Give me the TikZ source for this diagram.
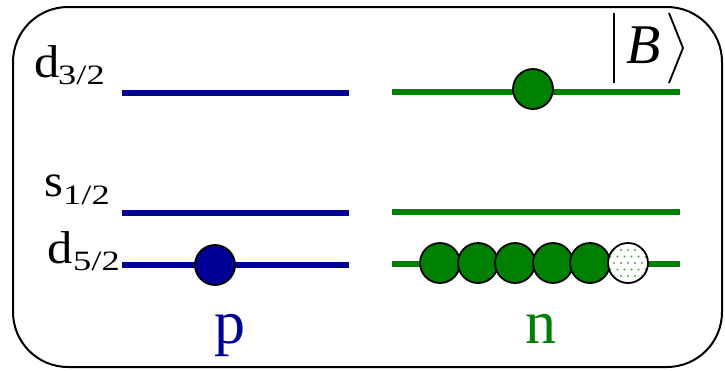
\documentclass[tikz,border=0pt]{standalone}
\usepackage{fontspec}
\setmainfont{Liberation Serif}
\definecolor{pblue}{RGB}{0,0,153}
\definecolor{ngreen}{RGB}{0,128,0}
\definecolor{dotgreen}{RGB}{70,170,70}
\begin{document}
\begin{tikzpicture}[x=1pt,y=-1pt,
  frame/.style={draw=black,line width=2pt,rounded corners=55pt},
  plevel/.style={draw=pblue,line width=5.5pt},
  nlevel/.style={draw=ngreen,line width=5.5pt},
  elec/.style={circle,draw=black,line width=1.8pt,minimum size=40pt,inner sep=0pt},
  lbl/.style={inner sep=0pt,font=\fontsize{46}{46}\selectfont},
  sublbl/.style={inner sep=0pt,font=\fontsize{28}{28}\selectfont},
  big/.style={inner sep=0pt,font=\fontsize{62}{62}\selectfont},
  ket/.style={draw=black,line width=1.8pt}]
\useasboundingbox (0,0) rectangle (725,370);
\draw[frame] (13,7) rectangle (722,367);
% proton levels
\coordinate (pd3a) at (122,93); \coordinate (pd3b) at (349,93);
\coordinate (ps1a) at (122,213); \coordinate (ps1b) at (349,213);
\coordinate (pd5a) at (122,265); \coordinate (pd5b) at (349,265);
\draw[plevel] (pd3a) -- (pd3b);
\draw[plevel] (ps1a) -- (ps1b);
\draw[plevel] (pd5a) -- (pd5b);
% neutron levels
\coordinate (nd3a) at (392,92); \coordinate (nd3b) at (680,92);
\coordinate (ns1a) at (392,212); \coordinate (ns1b) at (680,212);
\coordinate (nd5a) at (392,264); \coordinate (nd5b) at (680,264);
\draw[nlevel] (nd3a) -- (nd3b);
\draw[nlevel] (ns1a) -- (ns1b);
\draw[nlevel] (nd5a) -- (nd5b);
% particles
\node[elec,fill=pblue] (p1) at (215,265) {};
\node[elec,fill=ngreen] (nt) at (533,89) {};
\node[elec,fill=ngreen] (n1) at (440,263) {};
\node[elec,fill=ngreen] (n2) at (478,263) {};
\node[elec,fill=ngreen] (n3) at (515,263) {};
\node[elec,fill=ngreen] (n4) at (553,263) {};
\node[elec,fill=ngreen] (n5) at (590,263) {};
\node[elec,fill=white] (n6) at (628,263) {};
\begin{scope}
  \clip (n6.center) circle (19);
  \foreach \j in {-4,...,4}{
    \foreach \i in {-4,...,4}{
      \pgfmathsetmacro{\xo}{628+\i*7+mod(abs(\j),2)*3.5}
      \pgfmathsetmacro{\yo}{263+\j*6.5}
      \fill[dotgreen] (\xo,\yo) circle (1.1);
    }
  }
\end{scope}
% level labels
\node[lbl,anchor=base west] (ld3) at (34,77) {\scalebox{1.1}[1]{d}};
\node[sublbl,anchor=base west] (ld3s) at (58,84) {\scalebox{1.3}[1]{3/2}};
\node[lbl,anchor=base west] (ls1) at (44,196) {\scalebox{1.05}[1]{s}};
\node[sublbl,anchor=base west] (ls1s) at (63,204) {\scalebox{1.3}[1]{1/2}};
\node[lbl,anchor=base west] (ld5) at (47,263) {\scalebox{1.1}[1]{d}};
\node[sublbl,anchor=base west] (ld5s) at (73,270) {\scalebox{1.3}[1]{5/2}};
% p, n
\node[big,text=pblue,anchor=base] (plab) at (230,343) {p};
\node[big,text=ngreen,anchor=base] (nlab) at (541,343) {n};
% ket |B>
\node[inner sep=0pt,anchor=base,font=\fontsize{56}{56}\selectfont\itshape] (B) at (644,63) {B};
\coordinate (bar1) at (614,13); \coordinate (bar2) at (614,83);
\coordinate (ang1) at (669,13); \coordinate (ang2) at (683,48); \coordinate (ang3) at (669,83);
\draw[ket] (bar1) -- (bar2);
\draw[ket] (ang1) -- (ang2) -- (ang3);
\end{tikzpicture}
\end{document}
